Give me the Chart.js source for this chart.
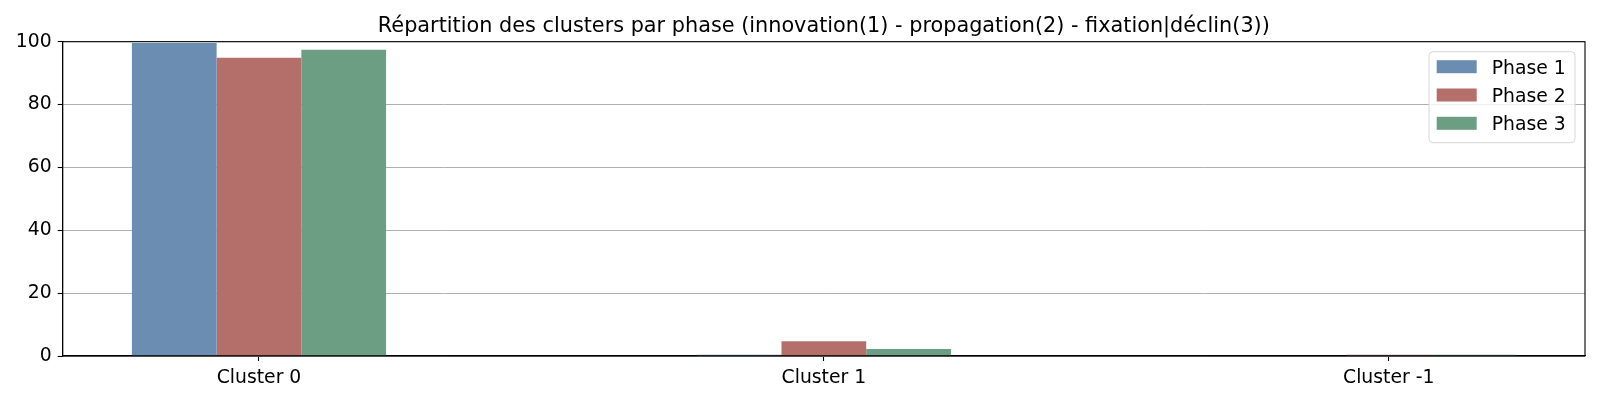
<!DOCTYPE html>
<html>
<head>
<meta charset="utf-8">
<script src="https://cdn.jsdelivr.net/npm/chart.js@4.4.1/dist/chart.umd.min.js"></script>
<style>
html,body{margin:0;padding:0;background:#fff;}
#wrap{width:1600px;height:400px;}
</style>
</head>
<body>
<div id="wrap"><canvas id="c" width="1600" height="400"></canvas></div>
<script>
const categories = ["Cluster 0", "Cluster 1", "Cluster -1"];
const phase1 = [99.6, 0.4, 0];
const phase2 = [94.9, 4.7, 0.4];
const phase3 = [97.4, 2.2, 0.4];
const seriesLabels = ["Phase 1", "Phase 2", "Phase 3"];
const yTicks = [0, 20, 40, 60, 80, 100];
const titleText = "Répartition des clusters par phase (innovation(1) - propagation(2) - fixation|déclin(3))";

const colors = ["#6c8db2", "#b46f6b", "#6b9e83"];
const FONT = "'DejaVu Sans', sans-serif";
const BASE = 18.8;

function toPoints(arr){ return arr.map((v,i)=>({x:i, y:v})); }

const boxPlugin = {
  id: 'boxPlugin',
  afterDraw(chart){
    const ctx = chart.ctx, a = chart.chartArea;
    ctx.save();
    ctx.strokeStyle = '#000';
    ctx.lineWidth = 1.1;
    ctx.strokeRect(a.left, a.top, a.right - a.left, a.bottom - a.top);
    // title, centred over the axes
    ctx.font = '20.8px ' + FONT;
    ctx.fillStyle = '#000';
    ctx.textAlign = 'center';
    ctx.textBaseline = 'alphabetic';
    ctx.fillText(titleText, (a.left + a.right) / 2, 31.5);
    // legend
    const x0 = 1429, y0 = 51.7, w = 146, h = 91;
    const r = 4;
    ctx.beginPath();
    ctx.moveTo(x0 + r, y0);
    ctx.lineTo(x0 + w - r, y0);
    ctx.quadraticCurveTo(x0 + w, y0, x0 + w, y0 + r);
    ctx.lineTo(x0 + w, y0 + h - r);
    ctx.quadraticCurveTo(x0 + w, y0 + h, x0 + w - r, y0 + h);
    ctx.lineTo(x0 + r, y0 + h);
    ctx.quadraticCurveTo(x0, y0 + h, x0, y0 + h - r);
    ctx.lineTo(x0, y0 + r);
    ctx.quadraticCurveTo(x0, y0, x0 + r, y0);
    ctx.closePath();
    ctx.fillStyle = 'rgba(255,255,255,0.8)';
    ctx.fill();
    ctx.strokeStyle = '#d6d6d6';
    ctx.lineWidth = 1;
    ctx.stroke();
    ctx.font = BASE + 'px ' + FONT;
    ctx.textBaseline = 'alphabetic';
    ctx.textAlign = 'left';
    chart.data.datasets.forEach((ds, i) => {
      const cy = 66.7 + i * 28.3;
      ctx.fillStyle = ds.backgroundColor;
      ctx.fillRect(1436.7, cy - 6.5, 40, 13);
      ctx.fillStyle = '#000';
      ctx.fillText(ds.label, 1491.7, cy + 6.8);
    });
    ctx.restore();
  }
};

new Chart(document.getElementById('c'), {
  type: 'bar',
  data: {
    datasets: [
      {label: seriesLabels[0], data: toPoints(phase1), backgroundColor: colors[0]},
      {label: seriesLabels[1], data: toPoints(phase2), backgroundColor: colors[1]},
      {label: seriesLabels[2], data: toPoints(phase3), backgroundColor: colors[2]}
    ]
  },
  options: {
    responsive: false,
    animation: false,
    devicePixelRatio: 1,
    layout: {padding: {left: 0, right: 15, top: 41.7, bottom: 0}},
    datasets: {bar: {categoryPercentage: 0.45, barPercentage: 1.0, borderWidth: 0}},
    plugins: {
      legend: {display: false},
      tooltip: {enabled: false},
      title: {display: false}
    },
    scales: {
      x: {
        type: 'linear',
        offset: false,
        min: -0.3475,
        max: 2.3475,
        afterBuildTicks(scale){ scale.ticks = categories.map((c,i)=>({value:i})); },
        afterFit(scale){ scale.height = 44; },
        ticks: {
          color: '#000',
          font: {family: FONT, size: BASE},
          padding: 6,
          maxRotation: 0,
          autoSkip: false,
          callback: (v) => categories[v]
        },
        grid: {offset: false, drawOnChartArea: false, drawTicks: true, tickLength: 5, tickColor: '#000', tickWidth: 1.1},
        border: {display: true, color: '#000', width: 1.1}
      },
      y: {
        min: 0,
        max: 100,
        afterBuildTicks(scale){ scale.ticks = yTicks.map(v=>({value:v})); },
        afterFit(scale){ scale.width = 62.7; },
        ticks: {
          color: '#000',
          font: {family: FONT, size: BASE},
          padding: 6
        },
        grid: {color: '#b0b0b0', lineWidth: 1, drawTicks: true, tickLength: 5, tickColor: '#000', tickWidth: 1.1},
        border: {display: true, color: '#000', width: 1.1}
      }
    }
  },
  plugins: [boxPlugin]
});
</script>
</body>
</html>
